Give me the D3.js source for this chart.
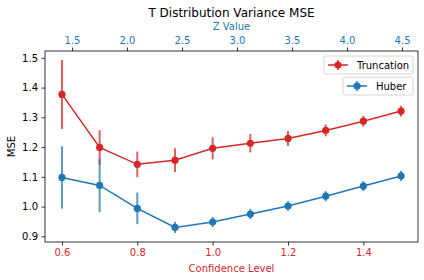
<!DOCTYPE html>
<html>
<head>
<meta charset="utf-8">
<script src="https://cdn.jsdelivr.net/npm/d3@7"></script>
<style>
    body { margin: 0; background: #fff; }
    text { font-family: "DejaVu Sans", sans-serif; }
</style>
</head>
<body>
<script>
const confidence = [0.6, 0.7, 0.8, 0.9, 1.0, 1.1, 1.2, 1.3, 1.4, 1.5];
const truncMse = [1.377, 1.199, 1.142, 1.156, 1.196, 1.213, 1.229, 1.256, 1.287, 1.321];
const truncErr = [0.116, 0.058, 0.043, 0.040, 0.037, 0.031, 0.025, 0.020, 0.018, 0.018];
const huberMse = [1.098, 1.071, 0.994, 0.930, 0.948, 0.975, 1.002, 1.035, 1.069, 1.103];
const huberErr = [0.105, 0.090, 0.053, 0.019, 0.017, 0.017, 0.016, 0.017, 0.017, 0.017];
const bottomTicks = [0.6, 0.8, 1.0, 1.2, 1.4];
const topTicks = [1.5, 2.0, 2.5, 3.0, 3.5, 4.0, 4.5];
const yTicks = [0.9, 1.0, 1.1, 1.2, 1.3, 1.4, 1.5];

const RED = "#d62728";
const BLUE = "#1f77b4";

const box = {left: 45, right: 418, top: 51, bottom: 242};

const svg = d3.select("body").append("svg")
    .attr("width", 424)
    .attr("height", 280);

const xScale = d3.scaleLinear().domain([0.555, 1.545]).range([box.left, box.right]);
const zScale = d3.scaleLinear().domain([1.255, 4.645]).range([box.left, box.right]);
const yScale = d3.scaleLinear().domain([0.881, 1.523]).range([box.bottom, box.top]);

function styleAxis(g, color) {
    g.select(".domain").remove();
    g.selectAll(".tick line").attr("stroke", "#000").attr("stroke-width", 0.8);
    g.selectAll(".tick text")
        .attr("fill", color)
        .style("font-size", "10px")
        .style("font-family", '"DejaVu Sans", sans-serif');
}

svg.append("g")
    .attr("transform", "translate(0," + box.bottom + ")")
    .call(d3.axisBottom(xScale).tickValues(bottomTicks).tickSize(3.5).tickPadding(3.5).tickFormat(d3.format(".1f")))
    .call((g) => styleAxis(g, RED));

svg.append("g")
    .attr("transform", "translate(0," + box.top + ")")
    .call(d3.axisTop(zScale).tickValues(topTicks).tickSize(3.5).tickPadding(3.5).tickFormat(d3.format(".1f")))
    .call((g) => styleAxis(g, BLUE));

svg.append("g")
    .attr("transform", "translate(" + box.left + ",0)")
    .call(d3.axisLeft(yScale).tickValues(yTicks).tickSize(3.5).tickPadding(3.5).tickFormat(d3.format(".1f")))
    .call((g) => styleAxis(g, "#000"));

svg.append("rect")
    .attr("x", box.left)
    .attr("y", box.top)
    .attr("width", box.right - box.left)
    .attr("height", box.bottom - box.top)
    .attr("fill", "none")
    .attr("stroke", "#000")
    .attr("stroke-width", 0.8);

svg.append("text")
    .attr("x", (box.left + box.right) / 2)
    .attr("y", 16.5)
    .attr("text-anchor", "middle")
    .style("font-size", "12px")
    .text("T Distribution Variance MSE");

svg.append("text")
    .attr("x", (box.left + box.right) / 2)
    .attr("y", 30)
    .attr("text-anchor", "middle")
    .attr("fill", BLUE)
    .style("font-size", "10px")
    .text("Z Value");

svg.append("text")
    .attr("x", (box.left + box.right) / 2)
    .attr("y", 272)
    .attr("text-anchor", "middle")
    .attr("fill", RED)
    .style("font-size", "10px")
    .text("Confidence Level");

svg.append("text")
    .attr("transform", "translate(15," + ((box.top + box.bottom) / 2) + ") rotate(-90)")
    .attr("text-anchor", "middle")
    .style("font-size", "10px")
    .text("MSE");

function renderSeries(values, errors, color) {
    const pts = confidence.map((c, i) => ({x: c, y: values[i], e: errors[i]}));
    const g = svg.append("g");

    g.selectAll("line.err")
        .data(pts)
        .enter()
        .append("line")
        .attr("class", "err")
        .attr("x1", (d) => xScale(d.x))
        .attr("x2", (d) => xScale(d.x))
        .attr("y1", (d) => yScale(d.y - d.e))
        .attr("y2", (d) => yScale(d.y + d.e))
        .attr("stroke", color)
        .attr("stroke-opacity", 0.75)
        .attr("stroke-width", 2);

    g.append("path")
        .datum(pts)
        .attr("fill", "none")
        .attr("stroke", color)
        .attr("stroke-width", 1.5)
        .attr("d", d3.line().x((d) => xScale(d.x)).y((d) => yScale(d.y)));

    g.selectAll("circle")
        .data(pts)
        .enter()
        .append("circle")
        .attr("cx", (d) => xScale(d.x))
        .attr("cy", (d) => yScale(d.y))
        .attr("r", 3.6)
        .attr("fill", color);
}

renderSeries(truncMse, truncErr, RED);
renderSeries(huberMse, huberErr, BLUE);

function renderLegend(x, y, w, label, color) {
    const g = svg.append("g").attr("transform", "translate(" + x + "," + y + ")");
    g.append("rect")
        .attr("width", w)
        .attr("height", 18)
        .attr("rx", 2)
        .attr("fill", "#fff")
        .attr("fill-opacity", 0.8)
        .attr("stroke", "#ccc")
        .attr("stroke-width", 0.8);
    g.append("line")
        .attr("x1", 4).attr("x2", 24).attr("y1", 9).attr("y2", 9)
        .attr("stroke", color).attr("stroke-width", 1.5);
    g.append("line")
        .attr("x1", 14).attr("x2", 14).attr("y1", 4).attr("y2", 14)
        .attr("stroke", color).attr("stroke-opacity", 0.75).attr("stroke-width", 2);
    g.append("circle")
        .attr("cx", 14).attr("cy", 9).attr("r", 3.6).attr("fill", color);
    g.append("text")
        .attr("x", 33)
        .attr("y", 12.5)
        .style("font-size", "10px")
        .text(label);
}

renderLegend(324, 56, 89, "Truncation", RED);
renderLegend(343, 77, 70, "Huber", BLUE);
</script>
</body>
</html>
